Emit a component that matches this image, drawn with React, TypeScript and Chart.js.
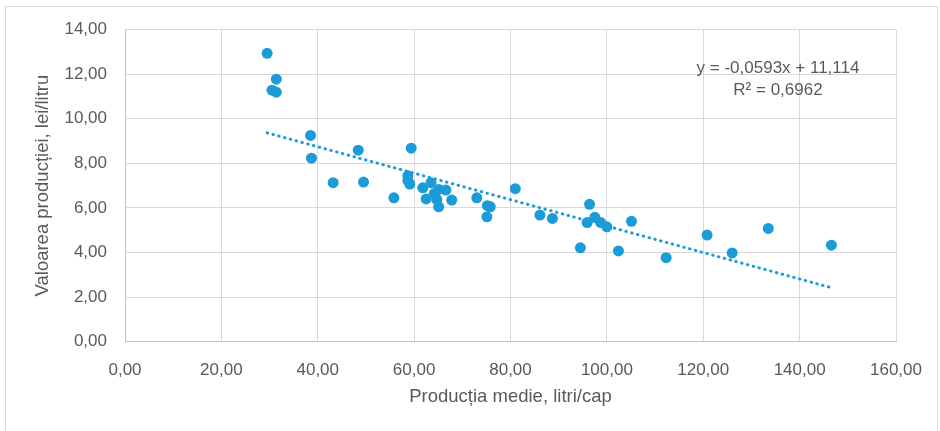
import { useEffect, useRef } from "react";
import { Chart, registerables } from "chart.js";

Chart.register(...registerables);

const prodX = [
  29.5, 31.4, 30.5, 31.4, 38.5, 38.7, 48.4, 59.4, 43.2, 49.5, 55.8, 58.7, 58.7, 59.1,
  61.8, 63.5, 65.1, 66.6, 62.5, 64.7, 65.1, 67.8, 64.2, 73.0, 75.2, 75.8, 75.1, 81.0,
  86.1, 88.7, 96.4, 97.5, 95.9, 98.7, 100.0, 105.1, 94.5, 102.4, 112.3, 120.8, 126.0,
  133.5, 146.6,
];
const valY = [
  12.93, 11.77, 11.28, 11.19, 9.25, 8.23, 8.59, 8.68, 7.13, 7.16, 6.45, 7.44, 7.22, 7.07,
  6.9, 7.13, 6.83, 6.8, 6.4, 6.38, 6.05, 6.35, 6.65, 6.45, 6.1, 6.05, 5.6, 6.86,
  5.68, 5.53, 6.16, 5.58, 5.34, 5.35, 5.15, 5.4, 4.21, 4.07, 3.77, 4.78, 3.98,
  5.08, 4.33,
];
const trendSlope = -0.0593;
const trendIntercept = 11.114;
const eqLabel = "y = -0,0593x + 11,114";
const r2Label = "R² = 0,6962";
const xTitle = "Producția medie, litri/cap";
const yTitle = "Valoarea producției, lei/litru";
const xMin = 0;
const xMax = 160;
const xStep = 20;
const yMin = 0;
const yMax = 14;
const yStep = 2;

const BLUE = "#1B9BD7";
const TEXT = "#595959";
const FONT = "'Liberation Sans', Arial, sans-serif";

const fmt = (v: number | string) => Number(v).toFixed(2).replace(".", ",");

export default function App() {
  const ref = useRef<HTMLCanvasElement | null>(null);

  useEffect(() => {
    if (!ref.current) return;
    const points = prodX.map((x, i) => ({ x, y: valY[i] }));
    const lo = Math.min(...prodX);
    const hi = Math.max(...prodX);
    const trend = [
      { x: lo, y: trendSlope * lo + trendIntercept },
      { x: hi, y: trendSlope * hi + trendIntercept },
    ];

    const eqPlugin = {
      id: "eqText",
      afterDatasetsDraw(chart: any) {
        const ctx = chart.ctx;
        ctx.save();
        ctx.fillStyle = TEXT;
        ctx.font = `17px ${FONT}`;
        ctx.textAlign = "center";
        ctx.textBaseline = "middle";
        ctx.fillText(eqLabel, 778, 68);
        ctx.fillText(r2Label, 778, 90);
        ctx.restore();
      },
    };

    const chart = new Chart(ref.current, {
      type: "scatter",
      data: {
        datasets: [
          {
            type: "line",
            data: trend,
            borderColor: BLUE,
            borderWidth: 3,
            borderDash: [0.5, 5.5],
            borderCapStyle: "round",
            pointRadius: 0,
            fill: false,
          } as any,
          {
            data: points,
            backgroundColor: BLUE,
            borderWidth: 0,
            pointRadius: 5.5,
          },
        ],
      },
      options: {
        animation: false,
        responsive: false,
        layout: { padding: { left: 0, top: 29.5, right: 42, bottom: 0 } },
        plugins: {
          legend: { display: false },
          tooltip: { enabled: false },
        },
        scales: {
          x: {
            type: "linear",
            min: xMin,
            max: xMax,
            afterFit: (s: any) => {
              s.height = 89.3;
            },
            ticks: {
              stepSize: xStep,
              callback: (v: any) => fmt(v),
              color: TEXT,
              font: { family: FONT, size: 17 },
              padding: 18,
              maxRotation: 0,
            },
            grid: { color: "#D9D9D9", lineWidth: 1, drawTicks: false },
            border: { color: "#BFBFBF" },
            title: {
              display: true,
              text: xTitle,
              color: TEXT,
              font: { family: FONT, size: 18.5 },
              padding: { top: 0, bottom: 23 },
            },
          },
          y: {
            type: "linear",
            min: yMin,
            max: yMax,
            afterFit: (s: any) => {
              s.width = 125;
            },
            ticks: {
              stepSize: yStep,
              callback: (v: any) => fmt(v),
              color: TEXT,
              font: { family: FONT, size: 17 },
              padding: 18,
            },
            grid: { color: "#D9D9D9", lineWidth: 1, drawTicks: false },
            border: { color: "#BFBFBF" },
            title: {
              display: true,
              text: yTitle,
              color: TEXT,
              font: { family: FONT, size: 18.5 },
              padding: { top: 32, bottom: 0 },
            },
          },
        },
      },
      plugins: [eqPlugin],
    });
    return () => chart.destroy();
  }, []);

  return (
    <div style={{ position: "fixed", left: 0, top: 0, width: 940, height: 431, background: "#fff" }}>
      <div
        style={{
          position: "absolute",
          left: 5,
          top: 6,
          width: 931,
          height: 440,
          border: "1px solid #D9D9D9",
        }}
      />
      <canvas ref={ref} width={940} height={431} style={{ position: "absolute", left: 0, top: 0 }} />
    </div>
  );
}
